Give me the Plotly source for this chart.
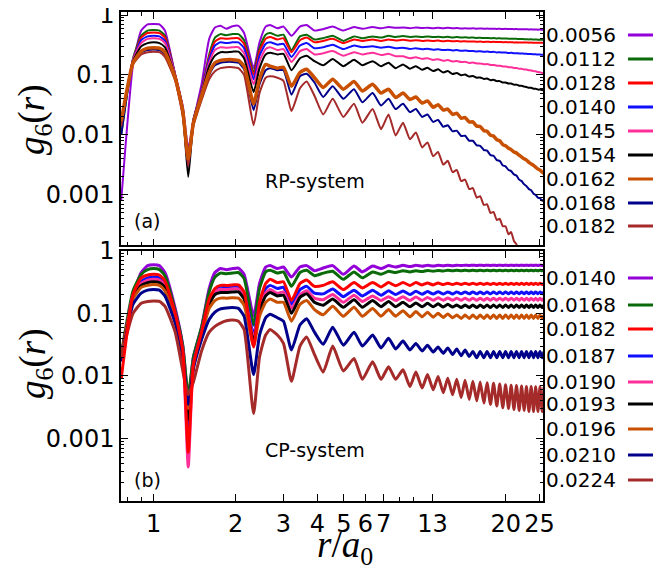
from plotly.graph_objects import Figure, Scatter

# r / a0 sample positions (shells, then peak / trough pairs at large r)
R = [0.76, 0.84, 0.90, 0.95, 1.00, 1.05, 1.10, 1.20, 1.28, 1.34,
     1.40, 1.50, 1.60, 1.68, 1.76, 1.85, 1.95, 2.05, 2.15, 2.33,
     2.45, 2.58, 2.68, 2.85, 3.00, 3.21, 3.45, 3.65, 3.90, 4.20,
     4.55, 4.98, 5.45, 5.85, 6.38, 6.85, 7.30, 7.75,
     8.25, 8.75, 9.2, 9.7, 10.15, 10.65, 11.1, 11.6, 12.05, 12.55,
     13.0, 13.5, 13.95, 14.45, 14.9, 15.4, 15.85, 16.35, 16.8, 17.3,
     17.75, 18.25, 18.7, 19.2, 19.65, 20.15, 20.6, 21.1, 21.55, 22.05,
     22.5, 23.0, 23.45, 23.95, 24.4, 24.9, 25.35, 25.85, 26.3, 26.8,
     27.2]

# (a) RP-system
RP_LABELS = ["0.0056", "0.0112", "0.0128", "0.0140", "0.0145",
             "0.0154", "0.0162", "0.0168", "0.0182"]
RP_0056 = [0.0008, 0.15, 0.55, 0.70, 0.71, 0.70, 0.55, 0.10, 0.03, 0.006,
           0.017, 0.07, 0.40, 0.62, 0.66, 0.59, 0.65, 0.66, 0.50, 0.13,
           0.35, 0.64, 0.68, 0.60, 0.64, 0.45, 0.64, 0.68, 0.55, 0.58,
           0.64, 0.55, 0.63, 0.59, 0.63, 0.60, 0.63, 0.61,
           0.62, 0.60, 0.62, 0.605, 0.615, 0.60, 0.61, 0.60, 0.61, 0.60,
           0.605, 0.595, 0.60, 0.595, 0.60, 0.592, 0.597, 0.59, 0.594, 0.588,
           0.592, 0.586, 0.589, 0.584, 0.587, 0.582, 0.585, 0.58, 0.583, 0.578,
           0.58, 0.576, 0.578, 0.574, 0.576, 0.572, 0.574, 0.57, 0.572, 0.569,
           0.57]
RP_0112 = [0.010, 0.19, 0.45, 0.55, 0.56, 0.55, 0.45, 0.10, 0.027, 0.004,
           0.018, 0.055, 0.22, 0.42, 0.48, 0.46, 0.48, 0.48, 0.38, 0.11,
           0.28, 0.47, 0.50, 0.45, 0.47, 0.26, 0.44, 0.47, 0.39, 0.41,
           0.45, 0.37, 0.44, 0.41, 0.44, 0.42, 0.45, 0.43,
           0.445, 0.43, 0.44, 0.43, 0.44, 0.428, 0.435, 0.425, 0.432, 0.422,
           0.428, 0.42, 0.425, 0.418, 0.421, 0.415, 0.418, 0.412, 0.415, 0.41,
           0.412, 0.407, 0.409, 0.405, 0.406, 0.402, 0.403, 0.40, 0.40, 0.397,
           0.398, 0.395, 0.395, 0.392, 0.393, 0.39, 0.39, 0.388, 0.388, 0.386,
           0.386]
RP_0128 = [0.016, 0.18, 0.42, 0.50, 0.51, 0.50, 0.42, 0.10, 0.027, 0.004,
           0.018, 0.054, 0.20, 0.36, 0.41, 0.40, 0.41, 0.41, 0.33, 0.10,
           0.25, 0.40, 0.43, 0.39, 0.41, 0.24, 0.38, 0.42, 0.35, 0.37,
           0.40, 0.34, 0.39, 0.37, 0.39, 0.37, 0.39, 0.375,
           0.385, 0.372, 0.38, 0.37, 0.377, 0.368, 0.374, 0.366, 0.371, 0.364,
           0.368, 0.362, 0.366, 0.36, 0.363, 0.358, 0.361, 0.356, 0.359, 0.355,
           0.357, 0.353, 0.355, 0.352, 0.353, 0.35, 0.352, 0.349, 0.35, 0.348,
           0.349, 0.347, 0.348, 0.346, 0.347, 0.345, 0.346, 0.344, 0.345, 0.343,
           0.344]
RP_0140 = [0.016, 0.18, 0.38, 0.44, 0.45, 0.44, 0.37, 0.10, 0.027, 0.0035,
           0.018, 0.052, 0.18, 0.31, 0.35, 0.34, 0.35, 0.35, 0.28, 0.085,
           0.21, 0.33, 0.35, 0.32, 0.33, 0.20, 0.31, 0.34, 0.28, 0.29,
           0.32, 0.27, 0.31, 0.29, 0.30, 0.285, 0.295, 0.28,
           0.285, 0.272, 0.278, 0.268, 0.273, 0.264, 0.268, 0.26, 0.264, 0.256,
           0.26, 0.253, 0.256, 0.25, 0.252, 0.247, 0.249, 0.244, 0.246, 0.241,
           0.243, 0.238, 0.24, 0.236, 0.237, 0.233, 0.234, 0.23, 0.231, 0.228,
           0.229, 0.226, 0.226, 0.223, 0.224, 0.221, 0.221, 0.219, 0.219, 0.217,
           0.217]
RP_0145 = [0.016, 0.18, 0.34, 0.40, 0.41, 0.40, 0.34, 0.10, 0.026, 0.003,
           0.017, 0.05, 0.16, 0.26, 0.29, 0.285, 0.29, 0.29, 0.23, 0.07,
           0.17, 0.27, 0.29, 0.26, 0.27, 0.165, 0.25, 0.27, 0.22, 0.23,
           0.25, 0.21, 0.24, 0.22, 0.235, 0.215, 0.225, 0.205,
           0.205, 0.19, 0.197, 0.185, 0.19, 0.178, 0.183, 0.173, 0.177, 0.168,
           0.171, 0.164, 0.166, 0.159, 0.161, 0.155, 0.156, 0.151, 0.152, 0.147,
           0.147, 0.143, 0.143, 0.139, 0.139, 0.135, 0.135, 0.131, 0.131, 0.127,
           0.127, 0.123, 0.123, 0.12, 0.119, 0.116, 0.115, 0.112, 0.111, 0.108,
           0.107]
RP_0154 = [0.016, 0.17, 0.30, 0.34, 0.35, 0.34, 0.29, 0.095, 0.024, 0.002,
           0.016, 0.048, 0.14, 0.21, 0.24, 0.24, 0.245, 0.245, 0.19, 0.052,
           0.13, 0.22, 0.235, 0.22, 0.225, 0.12, 0.19, 0.21, 0.17, 0.145,
           0.185, 0.14, 0.18, 0.145, 0.17, 0.14, 0.16, 0.13,
           0.15, 0.127, 0.14, 0.122, 0.132, 0.116, 0.124, 0.11, 0.116, 0.104,
           0.108, 0.099, 0.102, 0.094, 0.096, 0.09, 0.091, 0.086, 0.087, 0.082,
           0.083, 0.079, 0.079, 0.075, 0.075, 0.072, 0.072, 0.069, 0.069, 0.066,
           0.066, 0.064, 0.063, 0.061, 0.061, 0.059, 0.059, 0.057, 0.057, 0.056,
           0.055]
RP_0162 = [0.017, 0.16, 0.25, 0.28, 0.285, 0.28, 0.24, 0.09, 0.025, 0.004,
           0.016, 0.045, 0.11, 0.16, 0.175, 0.18, 0.18, 0.175, 0.14, 0.033,
           0.085, 0.15, 0.14, 0.13, 0.135, 0.065, 0.11, 0.125, 0.09, 0.062,
           0.085, 0.058, 0.078, 0.054, 0.07, 0.05, 0.058, 0.042,
           0.05, 0.039, 0.043, 0.034, 0.037, 0.029, 0.032, 0.026, 0.027, 0.022,
           0.023, 0.019, 0.0195, 0.0165, 0.0165, 0.014, 0.0138, 0.0118, 0.0115, 0.0099,
           0.0096, 0.0083, 0.008, 0.0069, 0.0066, 0.006, 0.0057, 0.0052, 0.005, 0.0046,
           0.0043, 0.004, 0.0038, 0.0035, 0.0033, 0.0031, 0.0029, 0.0027, 0.0026, 0.0024,
           0.0023]
RP_0168 = [0.010, 0.16, 0.24, 0.26, 0.265, 0.26, 0.22, 0.085, 0.022, 0.003,
           0.015, 0.042, 0.10, 0.145, 0.16, 0.165, 0.165, 0.16, 0.125, 0.026,
           0.07, 0.12, 0.13, 0.12, 0.12, 0.047, 0.095, 0.105, 0.075, 0.043,
           0.065, 0.04, 0.058, 0.035, 0.05, 0.031, 0.04, 0.027,
           0.033, 0.024, 0.027, 0.02, 0.022, 0.0165, 0.0178, 0.0137, 0.0145, 0.0115,
           0.0118, 0.0096, 0.0097, 0.008, 0.008, 0.0067, 0.0066, 0.0056, 0.0055, 0.0046,
           0.0045, 0.0038, 0.0037, 0.0031, 0.003, 0.0026, 0.0025, 0.0022, 0.0021, 0.0018,
           0.0017, 0.0015, 0.0014, 0.00125, 0.0012, 0.00105, 0.001, 0.0009, 0.00088, 0.0008,
           0.00085]
RP_0182 = [0.014, 0.15, 0.22, 0.24, 0.245, 0.24, 0.20, 0.08, 0.02, 0.003,
           0.014, 0.038, 0.085, 0.115, 0.13, 0.135, 0.135, 0.13, 0.10, 0.0145,
           0.05, 0.09, 0.095, 0.09, 0.08, 0.025, 0.06, 0.078, 0.045, 0.022,
           0.04, 0.02, 0.033, 0.016, 0.027, 0.0125, 0.022, 0.0098,
           0.016, 0.0085, 0.011, 0.0062, 0.0075, 0.0044, 0.0052, 0.0032, 0.0037, 0.0024,
           0.0026, 0.0017, 0.0018, 0.00125, 0.0013, 0.0009, 0.00095, 0.00068, 0.0007, 0.0005,
           0.00052, 0.00038, 0.0004, 0.0003, 0.0003, 0.00022, 0.00024, 0.00017, 0.00015, 0.0001,
           0.00012, 0.00007, 0.00005, 0.00003, 0.00002, 0.00001, 0.00001, 0.000005, 0.000003, 0.000002,
           0.000001]

# (b) CP-system
CP_LABELS = ["0.0140", "0.0168", "0.0182", "0.0187", "0.0190",
             "0.0193", "0.0196", "0.0210", "0.0224"]
CP_0140 = [0.02, 0.2, 0.45, 0.58, 0.60, 0.58, 0.45, 0.12, 0.03, 0.004,
           0.02, 0.06, 0.25, 0.45, 0.52, 0.50, 0.52, 0.53, 0.42, 0.09,
           0.3, 0.55, 0.58, 0.52, 0.55, 0.38, 0.55, 0.58, 0.48, 0.53,
           0.58, 0.42, 0.57, 0.46, 0.57, 0.52, 0.58, 0.55,
           0.585, 0.56, 0.585, 0.565, 0.585, 0.57, 0.585, 0.575, 0.59, 0.578,
           0.59, 0.58, 0.59, 0.582, 0.59, 0.582, 0.59, 0.582, 0.59, 0.582,
           0.59, 0.582, 0.59, 0.582, 0.59, 0.582, 0.59, 0.582, 0.59, 0.582,
           0.59, 0.582, 0.59, 0.582, 0.59, 0.582, 0.59, 0.582, 0.59, 0.582,
           0.59]
CP_0168 = [0.022, 0.23, 0.42, 0.50, 0.52, 0.50, 0.40, 0.11, 0.03, 0.0048,
           0.02, 0.06, 0.22, 0.38, 0.44, 0.43, 0.44, 0.45, 0.36, 0.065,
           0.25, 0.46, 0.49, 0.44, 0.46, 0.27, 0.45, 0.49, 0.40, 0.44,
           0.47, 0.35, 0.46, 0.37, 0.46, 0.42, 0.47, 0.45,
           0.48, 0.46, 0.48, 0.465, 0.485, 0.47, 0.485, 0.475, 0.49, 0.478,
           0.49, 0.48, 0.49, 0.48, 0.49, 0.48, 0.49, 0.48, 0.49, 0.48,
           0.49, 0.48, 0.49, 0.48, 0.49, 0.48, 0.49, 0.48, 0.49, 0.48,
           0.49, 0.48, 0.49, 0.48, 0.49, 0.48, 0.49, 0.48, 0.49, 0.48,
           0.49]
CP_0182 = [0.009, 0.2, 0.37, 0.41, 0.42, 0.41, 0.33, 0.1, 0.025, 0.0006,
           0.015, 0.05, 0.17, 0.25, 0.28, 0.28, 0.285, 0.285, 0.22, 0.029,
           0.15, 0.30, 0.35, 0.31, 0.32, 0.16, 0.30, 0.34, 0.27, 0.28,
           0.32, 0.24, 0.31, 0.255, 0.31, 0.265, 0.31, 0.275,
           0.31, 0.28, 0.31, 0.285, 0.305, 0.285, 0.305, 0.288, 0.303, 0.288,
           0.302, 0.29, 0.302, 0.29, 0.302, 0.29, 0.302, 0.29, 0.302, 0.29,
           0.302, 0.29, 0.302, 0.29, 0.302, 0.29, 0.302, 0.29, 0.302, 0.29,
           0.302, 0.29, 0.302, 0.29, 0.302, 0.29, 0.302, 0.29, 0.302, 0.29,
           0.302]
CP_0187 = [0.02, 0.19, 0.32, 0.37, 0.38, 0.37, 0.30, 0.1, 0.025, 0.0015,
           0.016, 0.05, 0.16, 0.24, 0.27, 0.265, 0.27, 0.27, 0.21, 0.045,
           0.14, 0.25, 0.28, 0.25, 0.26, 0.14, 0.24, 0.27, 0.21, 0.205,
           0.245, 0.185, 0.235, 0.19, 0.235, 0.195, 0.23, 0.2,
           0.228, 0.2, 0.225, 0.202, 0.223, 0.203, 0.222, 0.204, 0.22, 0.204,
           0.22, 0.205, 0.22, 0.205, 0.22, 0.205, 0.22, 0.205, 0.22, 0.205,
           0.22, 0.205, 0.22, 0.205, 0.22, 0.205, 0.22, 0.205, 0.22, 0.205,
           0.22, 0.205, 0.22, 0.205, 0.22, 0.205, 0.22, 0.205, 0.22, 0.205,
           0.22]
CP_0190 = [0.02, 0.19, 0.30, 0.34, 0.35, 0.34, 0.28, 0.095, 0.024, 0.00035,
           0.015, 0.048, 0.15, 0.22, 0.24, 0.24, 0.245, 0.245, 0.19, 0.04,
           0.12, 0.21, 0.24, 0.21, 0.22, 0.12, 0.2, 0.23, 0.175, 0.165,
           0.2, 0.15, 0.195, 0.155, 0.19, 0.16, 0.185, 0.16,
           0.185, 0.16, 0.182, 0.161, 0.18, 0.162, 0.178, 0.162, 0.176, 0.162,
           0.175, 0.162, 0.175, 0.162, 0.175, 0.162, 0.175, 0.162, 0.175, 0.162,
           0.175, 0.162, 0.175, 0.162, 0.175, 0.162, 0.175, 0.162, 0.175, 0.162,
           0.175, 0.162, 0.175, 0.162, 0.175, 0.162, 0.175, 0.162, 0.175, 0.162,
           0.175]
CP_0193 = [0.02, 0.18, 0.28, 0.31, 0.32, 0.31, 0.26, 0.09, 0.023, 0.002,
           0.015, 0.046, 0.14, 0.2, 0.215, 0.215, 0.22, 0.22, 0.17, 0.035,
           0.11, 0.19, 0.215, 0.19, 0.195, 0.10, 0.18, 0.205, 0.15, 0.135,
           0.17, 0.125, 0.165, 0.125, 0.16, 0.128, 0.155, 0.128,
           0.15, 0.127, 0.147, 0.127, 0.145, 0.127, 0.142, 0.126, 0.14, 0.126,
           0.136, 0.124, 0.136, 0.124, 0.136, 0.124, 0.136, 0.124, 0.136, 0.124,
           0.136, 0.124, 0.136, 0.124, 0.136, 0.124, 0.136, 0.124, 0.136, 0.124,
           0.136, 0.124, 0.136, 0.124, 0.136, 0.124, 0.136, 0.124, 0.136, 0.124,
           0.136]
CP_0196 = [0.02, 0.17, 0.26, 0.28, 0.29, 0.28, 0.23, 0.085, 0.022, 0.003,
           0.015, 0.045, 0.12, 0.16, 0.175, 0.175, 0.178, 0.175, 0.135, 0.03,
           0.09, 0.15, 0.17, 0.15, 0.15, 0.075, 0.14, 0.16, 0.115, 0.095,
           0.13, 0.09, 0.125, 0.09, 0.12, 0.09, 0.115, 0.09,
           0.11, 0.088, 0.107, 0.088, 0.104, 0.087, 0.1, 0.086, 0.098, 0.085,
           0.094, 0.083, 0.094, 0.083, 0.094, 0.083, 0.094, 0.083, 0.094, 0.083,
           0.094, 0.083, 0.094, 0.083, 0.094, 0.083, 0.094, 0.083, 0.094, 0.083,
           0.094, 0.083, 0.094, 0.083, 0.094, 0.083, 0.094, 0.083, 0.094, 0.083,
           0.094]
CP_0210 = [0.017, 0.14, 0.21, 0.235, 0.24, 0.235, 0.19, 0.07, 0.02, 0.0035,
           0.013, 0.038, 0.08, 0.105, 0.118, 0.122, 0.124, 0.12, 0.09, 0.0105,
           0.045, 0.085, 0.097, 0.085, 0.075, 0.026, 0.065, 0.082, 0.05, 0.032,
           0.06, 0.031, 0.05, 0.03, 0.045, 0.028, 0.04, 0.027,
           0.036, 0.026, 0.033, 0.025, 0.031, 0.024, 0.029, 0.023, 0.028, 0.022,
           0.027, 0.021, 0.026, 0.0205, 0.0245, 0.0195, 0.0245, 0.0195, 0.0245, 0.0195,
           0.0245, 0.0195, 0.0245, 0.0195, 0.0245, 0.0195, 0.0245, 0.0195, 0.0245, 0.0195,
           0.0245, 0.0195, 0.0245, 0.0195, 0.0245, 0.0195, 0.0245, 0.0195, 0.0245, 0.0195,
           0.0245]
CP_0224 = [0.02, 0.1, 0.145, 0.155, 0.157, 0.155, 0.13, 0.05, 0.012, 0.005,
           0.008, 0.025, 0.05, 0.062, 0.07, 0.076, 0.078, 0.075, 0.055, 0.0025,
           0.02, 0.045, 0.055, 0.045, 0.033, 0.0082, 0.03, 0.042, 0.022, 0.0115,
           0.03, 0.012, 0.019, 0.0088, 0.0168, 0.0088, 0.014, 0.0088,
           0.0125, 0.0068, 0.0115, 0.0064, 0.0105, 0.006, 0.0098, 0.0054, 0.0092, 0.005,
           0.0088, 0.0045, 0.0085, 0.0042, 0.0082, 0.004, 0.008, 0.0037, 0.0078, 0.0035,
           0.0076, 0.0033, 0.0074, 0.0031, 0.0072, 0.003, 0.0071, 0.0029, 0.007, 0.0028,
           0.0069, 0.0028, 0.0068, 0.0027, 0.0068, 0.0027, 0.0067, 0.0027, 0.0067, 0.0027,
           0.0066]

RP_SERIES = [RP_0056, RP_0112, RP_0128, RP_0140, RP_0145,
             RP_0154, RP_0162, RP_0168, RP_0182]
CP_SERIES = [CP_0140, CP_0168, CP_0182, CP_0187, CP_0190,
             CP_0193, CP_0196, CP_0210, CP_0224]

X_TICKS = [1, 2, 3, 4, 5, 6, 7, 10.6, 19.7, 26.2]
X_TICKTEXT = ["1", "2", "3", "4", "5", "6", "7", "13", "20", "25"]
Y_TICKS = [0.001, 0.01, 0.1, 1]
Y_TICKTEXT = ["0.001", "0.01", "0.1", "1"]

COLORS = ["#9400D8", "#0A6A0A", "#FF0000", "#1010FF", "#FF2F9A",
          "#000000", "#C85000", "#00008B", "#A52A2A"]

# geometry in window pixels; the page body adds an 8 px offset
W, H = 661, 573
BODY = 8
LEFT, RIGHT, TOP, BOTTOM = 121, 543, 12, 501
TOP_PANEL = (12, 245.3)
BOT_PANEL = (250.8, 501)
RP_LEG_Y = [35, 59, 83, 107, 131, 155, 179, 203, 226]
CP_LEG_Y = [278, 305, 329, 356, 382, 404, 429, 455, 480]

SANS = "DejaVu Sans"
SERIF = "Liberation Serif"


def px(x):
    return (x - LEFT) / (RIGHT - LEFT)


def py(y):
    return (BOTTOM - y) / (BOTTOM - TOP)


def add_panel(fig, series, labels, order, width, xa, ya, leg_y):
    """Draw one panel's curves and its hand-made legend."""
    for i in order:
        fig.add_trace(
            Scatter(
                x=R, y=series[i], mode="lines", name=labels[i],
                line={"color": COLORS[i], "width": width[i],
                      "shape": "spline", "smoothing": 0.5},
                xaxis=xa, yaxis=ya, showlegend=False,
            )
        )
    for i, label in enumerate(labels):
        fig.add_annotation(
            x=px(618), y=py(leg_y[i]), xref="paper", yref="paper",
            text=label, showarrow=False, xanchor="right", yanchor="middle",
            font={"family": SANS, "size": 20, "color": "black"},
        )
        fig.add_shape(
            type="line", xref="paper", yref="paper",
            x0=px(628), x1=px(664), y0=py(leg_y[i]), y1=py(leg_y[i]),
            line={"color": COLORS[i], "width": 3},
        )


def main():
    for s in RP_SERIES + CP_SERIES:
        assert len(s) == len(R)

    fig = Figure()
    add_panel(fig, RP_SERIES, RP_LABELS, [0, 1, 2, 3, 4, 5, 7, 8, 6],
              [2, 2, 2, 2, 2, 2, 3.5, 2, 2], "x", "y", RP_LEG_Y)
    add_panel(fig, CP_SERIES, CP_LABELS, [0, 1, 3, 4, 5, 6, 7, 8, 2],
              [3] * 9, "x2", "y2", CP_LEG_Y)

    minor_x = [0.8, 0.9, 8, 9]
    minor_y = [m * 10.0 ** e for e in range(-5, 1) for m in range(2, 10)]
    axis_common = {
        "type": "log", "showline": True, "linecolor": "black", "linewidth": 1.5,
        "mirror": "allticks", "ticks": "inside", "ticklen": 7, "tickwidth": 1,
        "tickcolor": "black", "showgrid": False, "zeroline": False,
        "automargin": False, "ticklabeloverflow": "allow",
        "tickfont": {"family": SANS, "size": 24, "color": "black"},
    }
    xaxis = dict(axis_common, range=[-0.12, 1.431], tickmode="array",
                 tickvals=X_TICKS, ticktext=X_TICKTEXT,
                 minor={"ticks": "inside", "ticklen": 4, "tickvals": minor_x,
                        "tickcolor": "black"})
    yaxis = dict(axis_common, tickmode="array", tickvals=Y_TICKS, ticktext=Y_TICKTEXT,
                 minor={"ticks": "inside", "ticklen": 3.5, "tickvals": minor_y,
                        "tickcolor": "black"})

    fig.update_layout(
        width=W, height=H,
        margin={"l": LEFT - BODY, "r": W - RIGHT + BODY, "t": TOP - BODY,
                "b": H - BOTTOM + BODY, "autoexpand": False},
        paper_bgcolor="white", plot_bgcolor="white", showlegend=False,
        xaxis=dict(xaxis, anchor="y", showticklabels=False),
        yaxis=dict(yaxis, anchor="x", range=[-3.84, 0.05],
                   domain=[py(TOP_PANEL[1]), 1.0]),
        xaxis2=dict(xaxis, anchor="y2", matches="x"),
        yaxis2=dict(yaxis, anchor="x2", range=[-4.0, 0.0],
                    domain=[0.0, py(BOT_PANEL[0])]),
    )

    notes = [
        ("RP-system", 315, 181),
        ("CP-system", 315, 450),
        ("(a)", 147, 221),
        ("(b)", 147, 480),
    ]
    for text, x, y in notes:
        fig.add_annotation(
            x=px(x), y=py(y), xref="paper", yref="paper", text=text,
            xanchor="center", yanchor="middle", showarrow=False,
            font={"family": SANS, "size": 19, "color": "black"},
        )
    for y in (120, 364):
        fig.add_annotation(
            x=px(35), y=py(y), xref="paper", yref="paper",
            text="<i>g</i><sub>6</sub>(<i>r</i>)", textangle=-90, showarrow=False,
            xanchor="center", yanchor="middle",
            font={"family": SERIF, "size": 37, "color": "black"},
        )
    fig.add_annotation(
        x=px(345), y=py(547), xref="paper", yref="paper",
        text="<i>r</i>/<i>a</i><sub>0</sub>", showarrow=False,
        xanchor="center", yanchor="middle",
        font={"family": SERIF, "size": 37, "color": "black"},
    )

    fig.write_html("out.html")


if __name__ == "__main__":
    main()
